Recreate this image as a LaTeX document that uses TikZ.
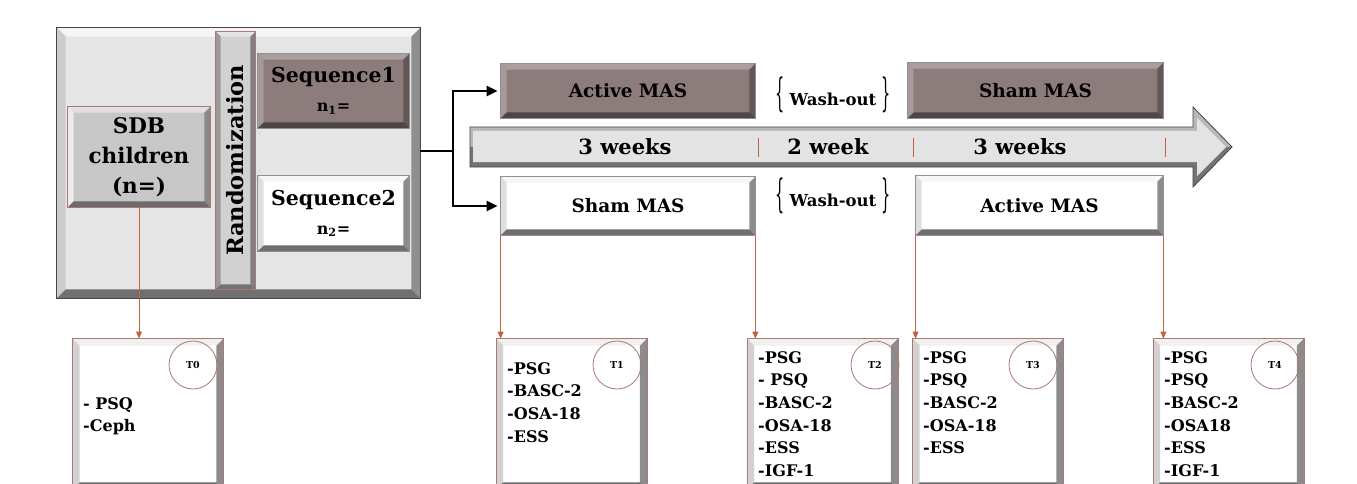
\documentclass[tikz,border=0pt]{standalone}
\usepackage{fontspec}
\setmainfont{DejaVu Serif}
\usepackage{graphicx}
\usepackage{xcolor}
\usepackage{tikz}
\usetikzlibrary{arrows.meta,positioning,calc}

\definecolor{mauve}{RGB}{140,124,124}
\definecolor{mauvelt}{RGB}{172,158,158}
\definecolor{mauvedk}{RGB}{98,86,86}
\definecolor{panelgray}{RGB}{229,229,229}
\definecolor{edgegray}{RGB}{70,70,70}
\definecolor{rust}{RGB}{196,98,60}
\definecolor{rosy}{RGB}{172,120,115}

\newcommand{\fsz}[2]{\fontsize{#1}{#2}\selectfont}
\newcommand{\tallbrace}[1]{\raisebox{-1pt}{\scalebox{0.85}[2.3]{\fsz{17}{19}\mdseries#1}}}
% bevel round a node: name, width, top, left, right, bottom, outline
\newcommand{\bevel}[7]{%
  \fill[#3] (#1.north west) -- (#1.north east) -- ([xshift=-#2,yshift=-#2]#1.north east) -- ([xshift=#2,yshift=-#2]#1.north west) -- cycle;
  \fill[#4] (#1.north west) -- ([xshift=#2,yshift=-#2]#1.north west) -- ([xshift=#2,yshift=#2]#1.south west) -- (#1.south west) -- cycle;
  \fill[#5] (#1.north east) -- (#1.south east) -- ([xshift=-#2,yshift=#2]#1.south east) -- ([xshift=-#2,yshift=-#2]#1.north east) -- cycle;
  \fill[#6] (#1.south west) -- ([xshift=#2,yshift=#2]#1.south west) -- ([xshift=-#2,yshift=#2]#1.south east) -- (#1.south east) -- cycle;
  \draw[#7,line width=0.8pt] (#1.north west) rectangle (#1.south east);
}
\newcommand{\whitebevel}[1]{\bevel{#1}{6pt}{black!3}{black!13}{black!45}{black!57}{edgegray!60}}
\newcommand{\mauvebevel}[1]{\bevel{#1}{6pt}{mauvelt}{mauvelt!85!mauve}{mauvedk}{mauvedk!80!black}{edgegray!60}}
\newcommand{\tbevel}[1]{\bevel{#1}{7pt}{black!6}{black!18}{black!45}{black!57}{rosy}}

\begin{document}
\begin{tikzpicture}[x=1pt,y=-1pt,
  box/.style={rectangle,inner sep=0pt,draw=edgegray,line width=0.8pt,align=center,font=\bfseries},
  mauvebox/.style={box,fill=mauve,font=\bfseries\fsz{18.5}{21}},
  whitebox/.style={box,fill=white,font=\bfseries\fsz{18.5}{21}},
  tbox/.style={box,fill=white,draw=rosy,minimum width=150pt,minimum height=150pt},
  tag/.style={circle,draw=rosy,line width=0.8pt,minimum size=48pt,inner sep=0pt,font=\bfseries\fsz{9.5}{10}},
  lst/.style={anchor=north west,align=left,inner sep=0pt,font=\bfseries\fsz{16}{22.7}},
  weeks/.style={inner sep=0pt,font=\bfseries\fsz{21}{24}},
  wash/.style={inner sep=0pt,font=\bfseries\fsz{16.5}{18}},
  fork/.style={line width=2.8pt},
  probe/.style={draw=rust,line width=0.9pt,-{Triangle[width=6pt,length=7pt]}}]

  \useasboundingbox (0,0) rectangle (1357,484);
  \clip (0,0) rectangle (1357,484);
  \fill[white] (0,0) rectangle (1357,484);

  % enrolment panel
  \node[box,fill=panelgray,minimum width=363pt,minimum height=270pt] (outer) at (238.5,163) {};
  \bevel{outer}{9pt}{black!4}{black!20}{black!44}{black!56}{edgegray}
  \node[box,fill=black!22,draw=rosy,minimum width=142pt,minimum height=100pt,font=\bfseries\fsz{21.5}{30}] (sdb) at (139,157) {SDB\\children\\(n=)};
  \bevel{sdb}{6pt}{black!12}{black!8}{black!46}{black!58}{rosy}
  \node[box,fill=black!18,draw=rosy,minimum width=39pt,minimum height=257pt] (randbar) at (235.5,160.5) {};
  \bevel{randbar}{5pt}{black!10}{black!40}{black!50}{black!55}{rosy}
  \node[rotate=90,inner sep=0pt,font=\bfseries\fsz{22.5}{24}] (randlabel) at (randbar.center) {Randomization};
  \node[mauvebox,minimum width=151pt,minimum height=74pt,font=\bfseries\fsz{20.5}{29}] (seqone) at (333.5,91) {Sequence1\\{\fsz{16}{18}n\textsubscript{1}=}};
  \mauvebevel{seqone}
  \node[whitebox,minimum width=151pt,minimum height=75pt,font=\bfseries\fsz{20.5}{29}] (seqtwo) at (333.5,213.5) {Sequence2\\{\fsz{16}{18}n\textsubscript{2}=}};
  \whitebevel{seqtwo}

  % treatment periods
  \node[mauvebox,minimum width=254pt,minimum height=54pt] (actone) at (628,91) {Active MAS};
  \mauvebevel{actone}
  \node[mauvebox,minimum width=255pt,minimum height=55pt] (shamtwo) at (1035.5,90.5) {Sham MAS};
  \mauvebevel{shamtwo}
  \node[whitebox,minimum width=254pt,minimum height=58pt] (shamone) at (628,206) {Sham MAS};
  \whitebevel{shamone}
  \node[whitebox,minimum width=247pt,minimum height=59pt] (acttwo) at (1039.5,205.5) {Active MAS};
  \whitebevel{acttwo}
  \node[wash] (washone) at (833,95) {\tallbrace{\{}\,\,Wash-out\,\,\tallbrace{\}}};
  \node[wash] (washtwo) at (833,196) {\tallbrace{\{}\,\,Wash-out\,\,\tallbrace{\}}};

  % time line
  \fill[black!28] (470,147) -- (470,127) -- (1193,127) -- (1193,107) -- (1232,147) -- cycle;
  \fill[black!55] (470,147) -- (1232,147) -- (1193,187) -- (1193,167) -- (470,167) -- cycle;
  \fill[black!11] (473,131) -- (1197,131) -- (1197,118) -- (1226,147) -- (1197,176) -- (1197,162) -- (473,162) -- cycle;
  \draw[edgegray,line width=0.8pt] (470,127) -- (1193,127) -- (1193,107) -- (1232,147) -- (1193,187) -- (1193,167) -- (470,167) -- cycle;
  \foreach \tx in {758,913,1165}
    \draw[rust,line width=0.7pt] (\tx,138) -- (\tx,157);
  \node[weeks] (wkone) at (625,147) {3 weeks};
  \node[weeks] (wktwo) at (828,147) {2 week};
  \node[weeks] (wkthree) at (1020,147) {3 weeks};

  % randomisation split
  \coordinate (split) at (453,151);
  \draw[fork] ([yshift=12pt]outer.east) -- (split);
  \draw[fork,-{Triangle[width=10pt,length=11pt]},shorten >=3pt] (split) |- (actone.west);
  \draw[fork,-{Triangle[width=10pt,length=11pt]},shorten >=3pt] (split) |- (shamone.west);

  % assessments
  \node[tbox] (tzero) at (148,414) {};
  \tbevel{tzero}
  \node[tbox] (tone) at (571.5,414) {};
  \tbevel{tone}
  \node[tbox] (ttwo) at (822.5,414) {};
  \tbevel{ttwo}
  \node[tbox] (tthree) at (988,414) {};
  \tbevel{tthree}
  \node[tbox] (tfour) at (1228.5,414) {};
  \tbevel{tfour}

  \node[tag] (tzerotag) at (193,365) {T0};
  \node[tag] (tonetag) at (617,365) {T1};
  \node[tag] (ttwotag) at (875,365) {T2};
  \node[tag] (tthreetag) at (1033,365) {T3};
  \node[tag] (tfourtag) at (1275,365) {T4};

  \node[lst] (tzerolist) at (83,397) {- PSQ\\-Ceph};
  \node[lst] (tonelist) at (507,362) {-PSG\\-BASC-2\\-OSA-18\\-ESS};
  \node[lst] (ttwolist) at (758,351) {-PSG\\- PSQ\\-BASC-2\\-OSA-18\\-ESS\\-IGF-1};
  \node[lst] (tthreelist) at (923,351) {-PSG\\-PSQ\\-BASC-2\\-OSA-18\\-ESS};
  \node[lst] (tfourlist) at (1164,351) {-PSG\\-PSQ\\-BASC-2\\-OSA18\\-ESS\\-IGF-1};

  \draw[probe] (sdb.south) -- (sdb.south |- tzero.north);
  \draw[probe] (shamone.south west) -- (shamone.south west |- tone.north);
  \draw[probe] (shamone.south east) -- (shamone.south east |- ttwo.north);
  \draw[probe] (acttwo.south west) -- (acttwo.south west |- tthree.north);
  \draw[probe] (acttwo.south east) -- (acttwo.south east |- tfour.north);
\end{tikzpicture}
\end{document}
